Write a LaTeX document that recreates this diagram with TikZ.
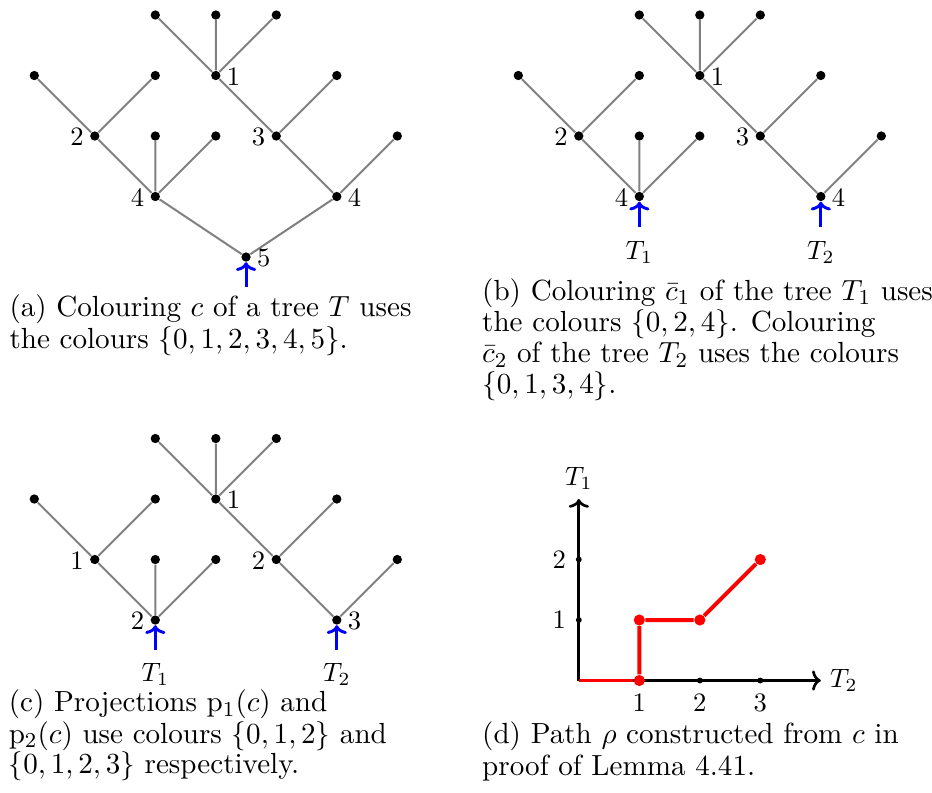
\documentclass[tikz,border=0pt]{standalone}
\usetikzlibrary{arrows.meta}
\begin{document}
\begin{tikzpicture}[x=0.8cm,y=0.8cm,
 treedot/.style={circle,fill=black,inner sep=0pt,minimum size=3.5pt},
 treeedge/.style={gray,line width=0.75pt},
 treelab/.style={inner sep=2pt,yshift=-0.4pt},
 bigtip/.style={-{Computer Modern Rightarrow[width=7.6pt,length=3.3pt]}},
 rootarrow/.style={bigtip,blue,line width=1.1pt},
 axisline/.style={bigtip,line width=1pt},
 tickdot/.style={circle,fill=black,inner sep=0pt,minimum size=2.2pt},
 rdot/.style={circle,fill=red,inner sep=0pt,minimum size=4.2pt},
 captext/.style={anchor=base west,inner sep=0pt,font=\fontsize{10.95pt}{12pt}\selectfont},
 tname/.style={anchor=base,inner sep=1pt}]
\useasboundingbox (-0.567,0.248) rectangle (14.838,-12.843);
\newcommand\mytree[2]{%
 \begin{scope}[shift={(#2)}]
 \node[treedot] (#1L4) at (2,-3) {};
 \node[treedot] (#1R4) at (5,-3) {};
 \node[treedot] (#1n2) at (1,-2) {};
 \node[treedot] (#1la) at (2,-2) {};
 \node[treedot] (#1lb) at (3,-2) {};
 \node[treedot] (#1n3) at (4,-2) {};
 \node[treedot] (#1lc) at (6,-2) {};
 \node[treedot] (#1l0) at (0,-1) {};
 \node[treedot] (#1l1) at (2,-1) {};
 \node[treedot] (#1n1) at (3,-1) {};
 \node[treedot] (#1ld) at (5,-1) {};
 \node[treedot] (#1t0) at (2,0) {};
 \node[treedot] (#1t1) at (3,0) {};
 \node[treedot] (#1t2) at (4,0) {};
 \draw[treeedge] (#1L4)--(#1n2) (#1L4)--(#1la) (#1L4)--(#1lb) (#1n2)--(#1l0) (#1n2)--(#1l1)
   (#1R4)--(#1n3) (#1R4)--(#1lc) (#1n3)--(#1n1) (#1n3)--(#1ld)
   (#1n1)--(#1t0) (#1n1)--(#1t1) (#1n1)--(#1t2);
 \end{scope}}
% (a)
\mytree{a}{0,0}
\node[treedot] (ar) at (3.5,-4) {};
\draw[treeedge] (ar)--(aL4) (ar)--(aR4);
\node[treelab,anchor=west] (aLa) at (an1.east) {1};
\node[treelab,anchor=east] (aLb) at (an2.west) {2};
\node[treelab,anchor=east] (aLc) at (an3.west) {3};
\node[treelab,anchor=east] (aLd) at (aL4.west) {4};
\node[treelab,anchor=west] (aLe) at (aR4.east) {4};
\node[treelab,anchor=west] (aLf) at (ar.east) {5};
\coordinate (aArr) at (3.5,-4.5);
\draw[rootarrow] (aArr) -- (ar);
\node[captext] (capa1) at (-0.418,-4.987) {(a) Colouring $c$ of a tree $T$ uses};
\node[captext] (capa2) at (-0.418,-5.504) {the colours $\{0,1,2,3,4,5\}$.};
% (b)
\mytree{b}{8,0}
\node[treelab,anchor=west] (bLa) at (bn1.east) {1};
\node[treelab,anchor=east] (bLb) at (bn2.west) {2};
\node[treelab,anchor=east] (bLc) at (bn3.west) {3};
\node[treelab,anchor=east] (bLd) at (bL4.west) {4};
\node[treelab,anchor=west] (bLe) at (bR4.east) {4};
\coordinate (bArr1) at (10,-3.5);
\coordinate (bArr2) at (13,-3.5);
\draw[rootarrow] (bArr1) -- (bL4);
\draw[rootarrow] (bArr2) -- (bR4);
\node[tname] (bT1) at (10,-4.04) {$T_1$};
\node[tname] (bT2) at (13,-4.04) {$T_2$};
\node[captext] (capb1) at (7.395,-4.711) {(b) Colouring $\bar{c}_1$ of the tree $T_1$ uses};
\node[captext] (capb2) at (7.395,-5.235) {the colours $\{0,2,4\}$. Colouring};
\node[captext] (capb3) at (7.395,-5.747) {$\bar{c}_2$ of the tree $T_2$ uses the colours};
\node[captext] (capb4) at (7.395,-6.248) {$\{0,1,3,4\}$.};
% (c)
\mytree{c}{0,-7}
\node[treelab,anchor=west] (cLa) at (cn1.east) {1};
\node[treelab,anchor=east] (cLb) at (cn2.west) {1};
\node[treelab,anchor=east] (cLc) at (cn3.west) {2};
\node[treelab,anchor=east] (cLd) at (cL4.west) {2};
\node[treelab,anchor=west] (cLe) at (cR4.east) {3};
\coordinate (cArr1) at (2,-10.5);
\coordinate (cArr2) at (5,-10.5);
\draw[rootarrow] (cArr1) -- (cL4);
\draw[rootarrow] (cArr2) -- (cR4);
\node[tname] (cT1) at (2,-11.01) {$T_1$};
\node[tname] (cT2) at (5,-11.01) {$T_2$};
\node[captext] (capc1) at (-0.43,-11.516) {(c) Projections $\mathrm{p}_1(c)$ and};
\node[captext] (capc2) at (-0.43,-12.033) {$\mathrm{p}_2(c)$ use colours $\{0,1,2\}$ and};
\node[captext] (capc3) at (-0.43,-12.545) {$\{0,1,2,3\}$ respectively.};
% (d)
\coordinate (dO) at (9,-11);
\coordinate (dX) at (13,-11);
\coordinate (dY) at (9,-8);
\draw[axisline] (dO) -- (dX);
\draw[axisline] (dO) -- (dY);
\node[right] (dT2) at (dX) {$T_2$};
\node[above] (dT1) at (dY) {$T_1$};
\node[tickdot] (dx1) at (10,-11) {};
\node[tickdot] (dx2) at (11,-11) {};
\node[tickdot] (dx3) at (12,-11) {};
\node[tickdot] (dy1) at (9,-10) {};
\node[tickdot] (dy2) at (9,-9) {};
\node[below] (dx1l) at (dx1.south) {1};
\node[below] (dx2l) at (dx2.south) {2};
\node[below] (dx3l) at (dx3.south) {3};
\node[left] (dy1l) at (dy1.west) {1};
\node[left] (dy2l) at (dy2.west) {2};
\node[rdot] (r10) at (10,-11) {};
\node[rdot] (r11) at (10,-10) {};
\node[rdot] (r21) at (11,-10) {};
\node[rdot] (r32) at (12,-9) {};
\draw[red,line width=0.9pt] (dO) -- (r10);
\draw[red,line width=1.5pt] (r10) -- (r11) -- (r21) -- (r32);
\node[captext] (capd1) at (7.395,-12.033) {(d) Path $\rho$ constructed from $c$ in};
\node[captext] (capd2) at (7.395,-12.562) {proof of Lemma 4.41.};
\end{tikzpicture}
\end{document}
